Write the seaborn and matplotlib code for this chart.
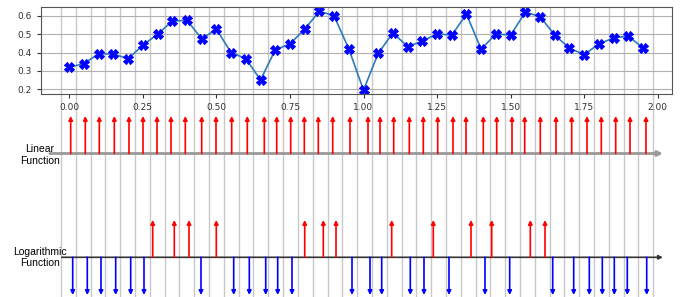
import matplotlib
matplotlib.use("Agg")
import matplotlib.pyplot as plt
import numpy as np
import seaborn as sns

# Data
x_vals = [0.00, 0.05, 0.10, 0.15, 0.20, 0.25, 0.30, 0.35, 0.40, 0.45,
          0.50, 0.55, 0.60, 0.65, 0.70, 0.75, 0.80, 0.85, 0.90, 0.95,
          1.00, 1.05, 1.10, 1.15, 1.20, 1.25, 1.30, 1.35, 1.40, 1.45,
          1.50, 1.55, 1.60, 1.65, 1.70, 1.75, 1.80, 1.85, 1.90, 1.95]
values = [0.320, 0.340, 0.394, 0.392, 0.367, 0.440, 0.500, 0.571, 0.576, 0.475,
          0.527, 0.400, 0.367, 0.251, 0.415, 0.447, 0.527, 0.625, 0.600, 0.420,
          0.196, 0.396, 0.507, 0.433, 0.462, 0.502, 0.495, 0.609, 0.418, 0.502,
          0.495, 0.620, 0.596, 0.495, 0.424, 0.389, 0.447, 0.480, 0.490, 0.425]

# pulse positions (in bin units) for the linear encoding
linear_pos = [0.155, 1.141, 2.087, 3.100, 4.092, 5.038, 5.983, 6.929, 7.895, 9.002,
              9.968, 11.028, 12.082, 13.230, 14.068, 15.013, 15.932, 16.877, 17.850, 19.018,
              20.234, 21.044, 21.969, 23.023, 23.968, 24.941, 25.974, 26.852, 28.020, 28.925,
              29.959, 30.816, 31.870, 32.930, 33.990, 35.024, 35.989, 36.962, 37.928, 39.008]

# pulse positions and signs for the logarithmic encoding
log_pos = [0.290, 1.276, 2.201, 3.194, 4.207, 5.105, 5.693, 7.152, 8.145, 8.955,
           9.988, 11.163, 12.217, 13.325, 14.135, 15.101, 15.959, 17.215, 18.073, 19.153,
           20.369, 21.159, 21.834, 23.090, 24.015, 24.643, 25.704, 27.190, 28.135, 28.588,
           29.803, 31.195, 32.188, 32.708, 34.126, 35.179, 36.057, 36.867, 37.746, 39.056]
log_up = [0, 0, 0, 0, 0, 0, 1, 1, 1, 0,
          1, 0, 0, 0, 0, 0, 1, 1, 1, 0,
          0, 0, 1, 0, 0, 1, 0, 1, 0, 1,
          0, 1, 1, 0, 0, 0, 0, 0, 0, 0]

W, H = 684, 297
fig = plt.figure(figsize=(W / 100, H / 100), dpi=100)

# background axes for the pulse trains, in pixel rows vertically
top_px = 7.3
ax_b = fig.add_axes([0, 0, 1, (H - top_px) / H])
ax_b.set_xlim(-0.5 - 61 / 14.807, -0.5 + (W - 61) / 14.807)
ax_b.set_ylim(H, top_px)
ax_b.axis("off")

edges = np.arange(-0.5, 40, 1.0)
ax_b.vlines(edges, top_px, H, color="#c8c8c8", lw=1.0, zorder=0)

def pulse(ax, x, y0, y1, color):
    ax.annotate("", xy=(x, y1), xytext=(x, y0),
                arrowprops=dict(arrowstyle="-|>", color=color, lw=1.2,
                                mutation_scale=6, shrinkA=0, shrinkB=0))

# linear row
lin_base, lin_tip = 153.5, 116
ax_b.annotate("", xy=(40.15, lin_base), xytext=(-1.25, lin_base),
              arrowprops=dict(arrowstyle="-|>", color="#999999", lw=2,
                              mutation_scale=7, shrinkA=0, shrinkB=0))
for p in linear_pos:
    pulse(ax_b, p, lin_base, lin_tip, "#ff0000")

# logarithmic row
log_base, log_tip_up, log_tip_dn = 257.3, 220, 295
ax_b.annotate("", xy=(40.15, log_base), xytext=(-0.45, log_base),
              arrowprops=dict(arrowstyle="-|>", color="#333333", lw=1.2,
                              mutation_scale=6, shrinkA=0, shrinkB=0))
for p, up in zip(log_pos, log_up):
    if up:
        pulse(ax_b, p, log_base, log_tip_up, "#ff0000")
    else:
        pulse(ax_b, p, log_base, log_tip_dn, "#0000ff")

label_font = ["Liberation Sans", "DejaVu Sans"]
fig.text(40 / W, 1 - 155 / H, "Linear\nFunction", ha="center", va="center",
         fontsize=7.5, linespacing=1.2, family=label_font)
fig.text(40 / W, 1 - 257.7 / H, "Logarithmic\nFunction", ha="center", va="center",
         fontsize=7.5, linespacing=1.2, family=label_font)

# top line plot
ax = fig.add_axes([40.6 / W, 1 - 94 / H, (671.7 - 40.6) / W, (94 - top_px) / H])
ax.patch.set_alpha(0)
sns.lineplot(x=x_vals, y=values, ax=ax, color="#2b7bba", lw=1.2,
             marker="X", markersize=6.5, markerfacecolor="#0000ff",
             markeredgecolor="#0000ff")
ax.set_xticks(np.arange(0, 2.01, 0.25))
ax.set_xticklabels([f"{t:.2f}" for t in np.arange(0, 2.01, 0.25)])
ax.set_yticks([0.2, 0.3, 0.4, 0.5, 0.6])
ax.tick_params(labelsize=6.5, length=3, width=0.8, colors="#333333")
ax.grid(axis="y", color="#b0b0b0", lw=0.8)
for s in ax.spines.values():
    s.set_color("#555555")

fig.savefig("out.png", dpi=100)
